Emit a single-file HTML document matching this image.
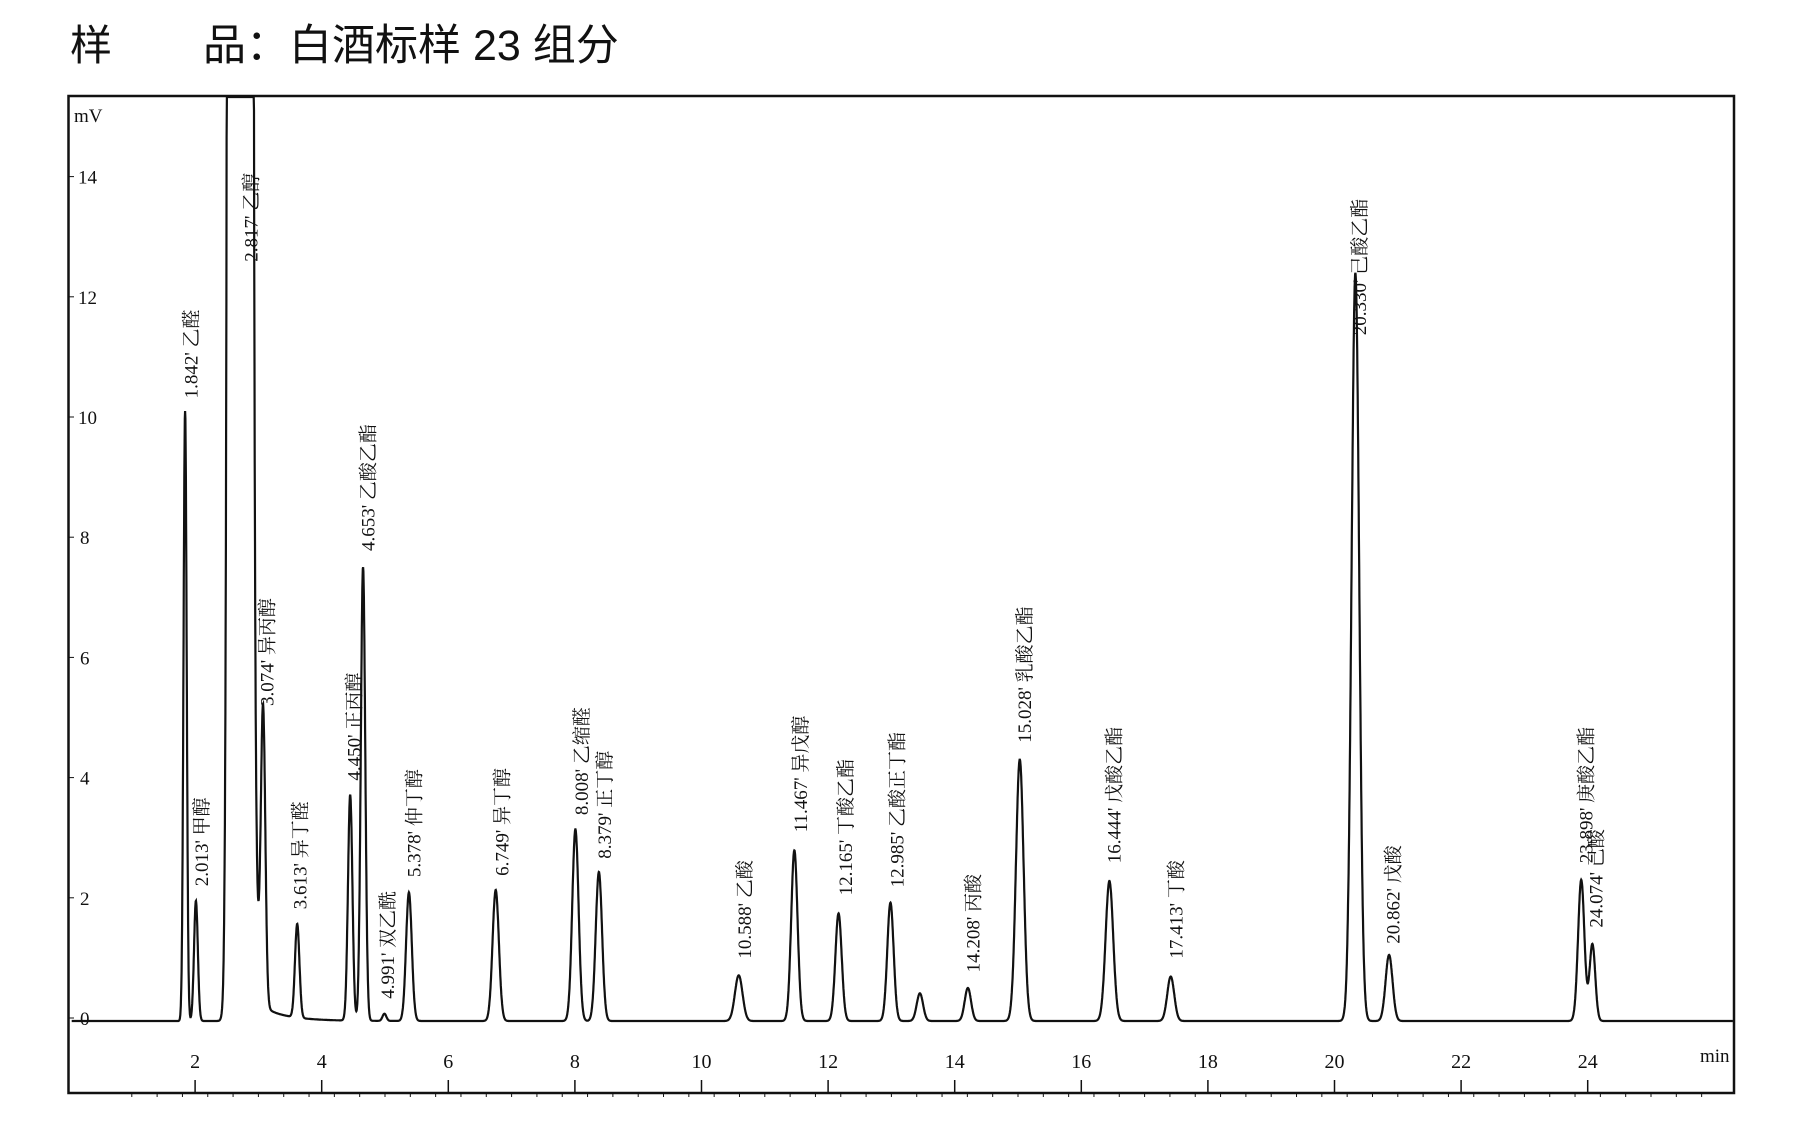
<!DOCTYPE html>
<html><head><meta charset="utf-8"><style>
html,body{margin:0;padding:0;background:#fff;}
svg{display:block}
.t{font-family:"Liberation Serif","Noto Serif CJK SC","Noto Sans CJK SC",serif;fill:#111}
</style></head><body>
<svg id="s" width="1800" height="1134" viewBox="0 0 1800 1134" xmlns="http://www.w3.org/2000/svg">
<text x="70" y="60" font-size="42" fill="#111" style="font-family:'Liberation Sans','Noto Sans CJK SC',sans-serif">样</text>
<text x="203" y="60" font-size="43" fill="#111" style="font-family:'Liberation Sans','Noto Sans CJK SC',sans-serif">品：白酒标样 23 组分</text>
<rect x="68.5" y="96" width="1665.5" height="997" fill="none" stroke="#111" stroke-width="2.5"/>
<text class="t" x="74" y="122" font-size="19">mV</text>
<g id="g"></g>
<path id="p" fill="none" stroke="#111" stroke-width="2.2"/>
<text class="t" x="1700" y="1062" font-size="19">min</text>
</svg>
<script>
var X=function(t){return 68.5+63.3*t},Y=function(v){return 1018-60.1*v};
var g=document.getElementById('g'),h='';
for(var v=0;v<=14;v+=2){var y=Y(v);h+='<line x1="68" x2="74" y1="'+y+'" y2="'+y+'" stroke="#111" stroke-width="1"/><text class="t" x="'+(v>=10?78:80)+'" y="'+(y+7)+'" font-size="19">'+v+'</text>';}
for(var t=2;t<=24;t+=2){var x=X(t);h+='<text class="t" x="'+x+'" y="1068" font-size="20" text-anchor="middle">'+t+'</text><line x1="'+x+'" x2="'+x+'" y1="1093" y2="1080" stroke="#111" stroke-width="1.5"/>';}
for(var t=1;t<=26;t+=0.4){var x=X(t);if(x>70&&x<1732)h+='<line x1="'+x+'" x2="'+x+'" y1="1093" y2="1097" stroke="#111" stroke-width="1"/>';}
var P=[[1.842,10.15,.025],[2.013,2.0,.03],[3.074,4.85,.035],[3.613,1.56,.035],[4.45,3.76,.035],[4.653,7.55,.035],[4.991,0.12,.03],[5.378,2.14,.045],[6.749,2.18,.05],[8.008,3.19,.05],[8.379,2.48,.05],[10.588,0.76,.06],[11.467,2.84,.05],[12.165,1.79,.05],[12.985,1.97,.05],[13.45,0.46,.05],[14.208,0.55,.05],[15.028,4.35,.06],[16.444,2.33,.06],[17.413,0.74,.055],[20.33,12.45,.06],[20.862,1.1,.055],[23.898,2.35,.05],[24.074,1.28,.045]];
function f(t){var v=-0.05;for(var i=0;i<P.length;i++){var d=(t-P[i][0])/P[i][2];if(Math.abs(d)<8)v+=P[i][1]*Math.exp(-.5*d*d);}
var d=(t-2.71)/0.065;v+=3000*Math.exp(-.5*d*d);if(t>2.85)v+=30*Math.exp(-(t-2.85)/0.045)+0.3*Math.exp(-(t-2.95)/0.4);return v;}
var d='';for(var t=0.05;t<=26.3;t+=0.004){var x=X(t);if(x<70||x>1733)continue;var y=Math.max(97,Math.min(1092,Y(f(t))));d+=(d?'L':'M')+x.toFixed(1)+' '+y.toFixed(1);}
document.getElementById('p').setAttribute('d',d);
var L=[[166,347,"1.842' 乙醛"],[175,772,"2.013' 甲醇"],[218,228,"2.817' 乙醇"],[232,615,"3.074' 异丙醇"],[261,792,"3.613' 异丁醛"],[308,680,"4.450' 正丙醇"],[320,480,"4.653' 乙酸乙酯"],[337,870,"4.991' 双乙酰"],[360,764,"5.378' 仲丁醇"],[437,763,"6.749' 异丁醇"],[506,710,"8.008' 乙缩醛"],[526,748,"8.379' 正丁醇"],[648,835,"10.588' 乙酸"],[697,725,"11.467' 异戊醇"],[736,780,"12.165' 丁酸乙酯"],[781,773,"12.985' 乙酸正丁酯"],[847,847,"14.208' 丙酸"],[892,647,"15.028' 乳酸乙酯"],[970,752,"16.444' 戊酸乙酯"],[1024,835,"17.413' 丁酸"],[1184,292,"20.330' 己酸乙酯"],[1213,822,"20.862' 戊酸"],[1381,752,"23.898' 庚酸乙酯"],[1390,808,"24.074' 己酸"]];
for(var i=0;i<L.length;i++){var x=L[i][0]*1.148+7,y=L[i][1]*1.148;h+='<text class="t" font-size="19" transform="translate('+x.toFixed(1)+','+y.toFixed(1)+') rotate(-90)">'+L[i][2]+'</text>';}
g.innerHTML=h;
</script>
</body></html>
